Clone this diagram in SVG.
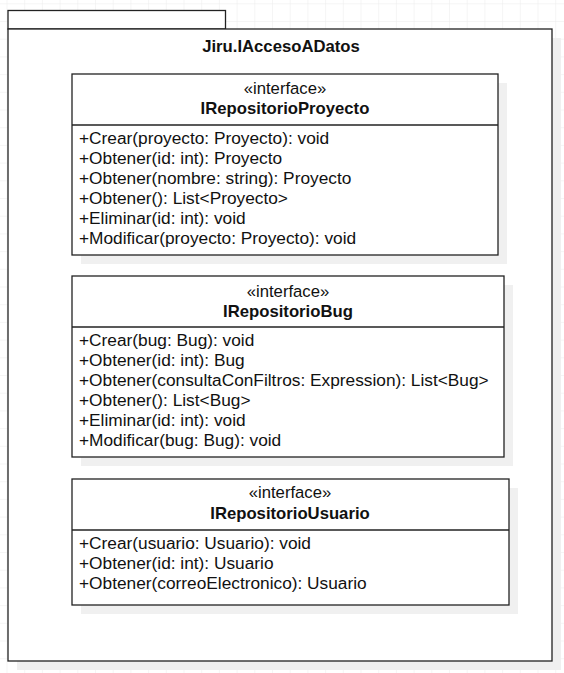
<svg xmlns="http://www.w3.org/2000/svg" width="564" height="673" viewBox="0 0 564 673">
<style>
.box{fill:#ffffff;stroke:#222222;stroke-width:1.3}
.shadow{fill:#f0f0f0}
.line{stroke:#222222;stroke-width:1.3}
text{font-family:"Liberation Sans",Arial,sans-serif;font-size:17.3px;fill:#111111}
.c{text-anchor:middle;font-size:16.7px}
.b{font-weight:bold}
</style>
<defs>
<pattern id="grid" x="6.5" y="3.3" width="17.7" height="17.7" patternUnits="userSpaceOnUse">
<path d="M0 0H17.7M0 0V17.7" fill="none" stroke="#ececec" stroke-width="1"/>
</pattern>
</defs>
<rect x="0" y="0" width="564" height="673" fill="#ffffff"/>
<rect x="0" y="0" width="564" height="673" fill="url(#grid)"/>
<g id="package">
<rect class="shadow" x="17" y="38" width="544" height="632"/>
<rect class="box" x="8" y="10.5" width="217.5" height="18.5"/>
<rect class="box" x="8" y="29" width="544" height="632"/>
<text class="c b" x="281" y="51.5">Jiru.IAccesoADatos</text>
</g>
<g id="IRepositorioProyecto">
<rect class="shadow" x="81" y="83" width="426" height="181"/>
<rect class="box" x="72" y="74" width="426" height="181"/>
<line class="line" x1="72" y1="125" x2="498" y2="125"/>
<text class="c" x="285" y="93.5">«interface»</text>
<text class="c b" x="285" y="114">IRepositorioProyecto</text>
<text x="79" y="144">+Crear(proyecto: Proyecto): void</text>
<text x="79" y="164">+Obtener(id: int): Proyecto</text>
<text x="79" y="184">+Obtener(nombre: string): Proyecto</text>
<text x="79" y="204">+Obtener(): List&lt;Proyecto&gt;</text>
<text x="79" y="224">+Eliminar(id: int): void</text>
<text x="79" y="244">+Modificar(proyecto: Proyecto): void</text>
</g>
<g id="IRepositorioBug">
<rect class="shadow" x="81" y="285" width="432" height="181"/>
<rect class="box" x="72" y="276" width="432" height="181"/>
<line class="line" x1="72" y1="327" x2="504" y2="327"/>
<text class="c" x="288" y="296.5">«interface»</text>
<text class="c b" x="288" y="317">IRepositorioBug</text>
<text x="79" y="346">+Crear(bug: Bug): void</text>
<text x="79" y="366">+Obtener(id: int): Bug</text>
<text x="79" y="386">+Obtener(consultaConFiltros: Expression): List&lt;Bug&gt;</text>
<text x="79" y="406">+Obtener(): List&lt;Bug&gt;</text>
<text x="79" y="426">+Eliminar(id: int): void</text>
<text x="79" y="446">+Modificar(bug: Bug): void</text>
</g>
<g id="IRepositorioUsuario">
<rect class="shadow" x="81" y="488" width="437" height="126"/>
<rect class="box" x="72" y="479" width="437" height="126"/>
<line class="line" x1="72" y1="530" x2="509" y2="530"/>
<text class="c" x="290" y="497.5">«interface»</text>
<text class="c b" x="290" y="519">IRepositorioUsuario</text>
<text x="79" y="549">+Crear(usuario: Usuario): void</text>
<text x="79" y="569">+Obtener(id: int): Usuario</text>
<text x="79" y="589">+Obtener(correoElectronico): Usuario</text>
</g>
<g id="connectors"/>
</svg>
